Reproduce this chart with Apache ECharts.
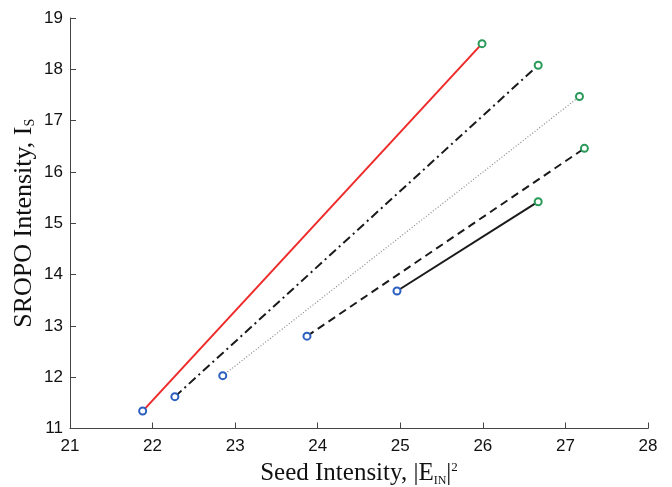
<!DOCTYPE html>
<html><head><meta charset="utf-8">
<script src="https://cdn.jsdelivr.net/npm/echarts@6/dist/echarts.min.js"></script>
<style>html,body{margin:0;padding:0;background:#fff}#c{width:672px;height:487px}</style>
</head><body><div id="c"></div>
<script>
// Data: each curve from start point (blue) to end point (green)
const seriesNames = ['red', 'dashdot', 'dotted', 'dashed', 'solid'];
const startX = [21.88, 22.27, 22.85, 23.87, 24.96];
const startY = [11.34, 11.62, 12.03, 12.80, 13.68];
const endX   = [25.99, 26.67, 27.17, 27.23, 26.67];
const endY   = [18.50, 18.08, 17.47, 16.46, 15.42];
const xTicks = [21, 22, 23, 24, 25, 26, 27, 28];
const yTicks = [11, 12, 13, 14, 15, 16, 17, 18, 19];

const lineStyles = [
  {color: '#ee2a2a', width: 2, type: 'solid'},
  {color: '#1a1a1a', width: 2, type: [9, 4, 2, 4]},
  {color: '#8a8a8a', width: 1.2, type: [1, 2]},
  {color: '#1a1a1a', width: 2, type: [8, 5]},
  {color: '#1a1a1a', width: 2, type: 'solid'}
];
const startColor = '#2c5fbf';
const endColor = '#2a9a5a';

const series = seriesNames.map((n, i) => ({
  name: n,
  type: 'line',
  symbol: 'emptyCircle',
  symbolSize: 7,
  z: 3,
  lineStyle: lineStyles[i],
  data: [
    {value: [startX[i], startY[i]], itemStyle: {color: startColor, borderColor: startColor, borderWidth: 1}},
    {value: [endX[i], endY[i]], itemStyle: {color: endColor, borderColor: endColor, borderWidth: 1}}
  ],
  animation: false
}));

const chart = echarts.init(document.getElementById('c'));
chart.setOption({
  backgroundColor: '#fff',
  grid: {left: 70, right: 24, top: 18, bottom: 58.5, containLabel: false, outerBoundsMode: 'none'},
  xAxis: {
    type: 'value', min: xTicks[0], max: xTicks[xTicks.length - 1], interval: 1,
    axisLine: {lineStyle: {color: '#444', width: 1}},
    axisTick: {inside: true, length: 6, lineStyle: {color: '#444'}},
    splitLine: {show: false},
    axisLabel: {color: '#111', fontSize: 17, fontFamily: 'Liberation Sans', margin: 9},
    name: '{a|Seed Intensity, |E}{s|IN}{a||}{p|2}',
    nameLocation: 'middle', nameGap: 32,
    nameTextStyle: {
      rich: {
        a: {fontFamily: 'Liberation Serif', fontSize: 25, color: '#111'},
        s: {fontFamily: 'Liberation Serif', fontSize: 12, color: '#111', padding: [14, 0, 0, 0]},
        p: {fontFamily: 'Liberation Serif', fontSize: 13, color: '#111', padding: [0, 0, 12, 0]}
      }
    }
  },
  yAxis: {
    type: 'value', min: yTicks[0], max: yTicks[yTicks.length - 1], interval: 1,
    axisLine: {show: true, lineStyle: {color: '#444', width: 1}},
    axisTick: {show: true, inside: true, length: 6, lineStyle: {color: '#444'}},
    splitLine: {show: false},
    axisLabel: {color: '#111', fontSize: 17, fontFamily: 'Liberation Sans', margin: 7},
    name: '{a|SROPO Intensity, I}{s|S}',
    nameLocation: 'middle', nameGap: 33, nameRotate: 90, nameMoveOverlap: false,
    nameTextStyle: {
      rich: {
        a: {fontFamily: 'Liberation Serif', fontSize: 26, color: '#111'},
        s: {fontFamily: 'Liberation Serif', fontSize: 14, color: '#111', padding: [12, 0, 0, 0]}
      }
    }
  },
  series: series
});
</script>
</body></html>
